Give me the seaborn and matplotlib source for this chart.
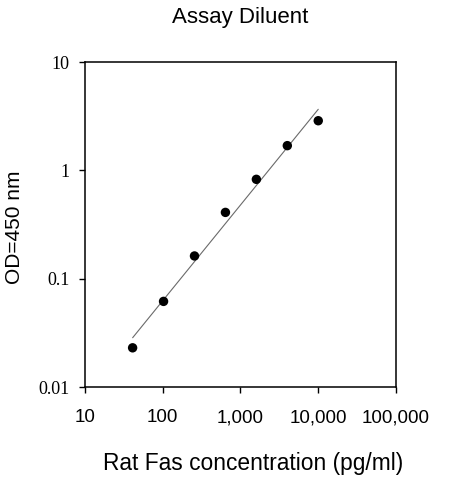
import matplotlib
matplotlib.use("Agg")
import matplotlib.pyplot as plt
import matplotlib.ticker as mticker
import seaborn as sns
import pandas as pd

# Data
concentration = [40.96, 102.4, 256, 640, 1600, 4000, 10000]
od450 = [0.0230, 0.0617, 0.162, 0.409, 0.826, 1.69, 2.87]
fit_x = [41, 10000]
fit_y = [0.0285, 3.66]

x_ticks = [10, 100, 1000, 10000, 100000]
x_tick_labels = ["10", "100", "1,000", "10,000", "100,000"]
y_ticks = [0.01, 0.1, 1, 10]
y_tick_labels = ["0.01", "0.1", "1", "10"]

title = "Assay Diluent"
x_label = "Rat Fas concentration (pg/ml)"
y_label = "OD=450 nm"

sns.set_style("ticks")
plt.rcParams["font.family"] = ["Liberation Sans", "DejaVu Sans"]
plt.rcParams["text.color"] = "black"
plt.rcParams["axes.labelcolor"] = "black"
plt.rcParams["xtick.color"] = "black"
plt.rcParams["ytick.color"] = "black"

fig = plt.figure(figsize=(4.63, 4.8), dpi=100)
ax = fig.add_axes([85 / 463, 1 - 387 / 480, (396 - 85) / 463, (387 - 62) / 480])

df_pts = pd.DataFrame({"x": concentration, "y": od450})
df_fit = pd.DataFrame({"x": fit_x, "y": fit_y})

sns.lineplot(data=df_fit, x="x", y="y", ax=ax, color="#6a6a6a", linewidth=0.8, zorder=2)
sns.scatterplot(data=df_pts, x="x", y="y", ax=ax, color="black", s=46,
                edgecolor="none", zorder=3)

ax.set_xscale("log")
ax.set_yscale("log")
ax.set_xlim(10, 100000)
ax.set_ylim(0.01, 10)

ax.xaxis.set_major_locator(mticker.FixedLocator(x_ticks))
ax.xaxis.set_major_formatter(mticker.FixedFormatter(x_tick_labels))
ax.yaxis.set_major_locator(mticker.FixedLocator(y_ticks))
ax.yaxis.set_major_formatter(mticker.FixedFormatter(y_tick_labels))
ax.xaxis.set_minor_locator(mticker.NullLocator())
ax.yaxis.set_minor_locator(mticker.NullLocator())

ax.tick_params(axis="x", direction="out", length=4, width=1, colors="black",
               pad=12, labelsize=13.5)
ax.tick_params(axis="y", direction="out", length=4, width=1, colors="black",
               pad=7, labelsize=13)
for lab in ax.get_yticklabels():
    lab.set_fontfamily(["Liberation Serif", "DejaVu Serif"])

for sp in ax.spines.values():
    sp.set_visible(True)
    sp.set_linewidth(1.1)
    sp.set_color("black")

ax.set_xlabel("")
ax.set_ylabel("")

fig.text(240.5 / 463, 1 - 23 / 480, title, ha="center", va="baseline", fontsize=16,
         color="black")
fig.text(253.5 / 463, 1 - 470 / 480, x_label, ha="center", va="baseline", fontsize=16.4,
         color="black")
fig.text(14.5 / 463, 1 - 227.5 / 480, y_label, ha="center", va="center",
         rotation=90, fontsize=15, color="black")

fig.savefig("out.png", dpi=100, facecolor="white")
